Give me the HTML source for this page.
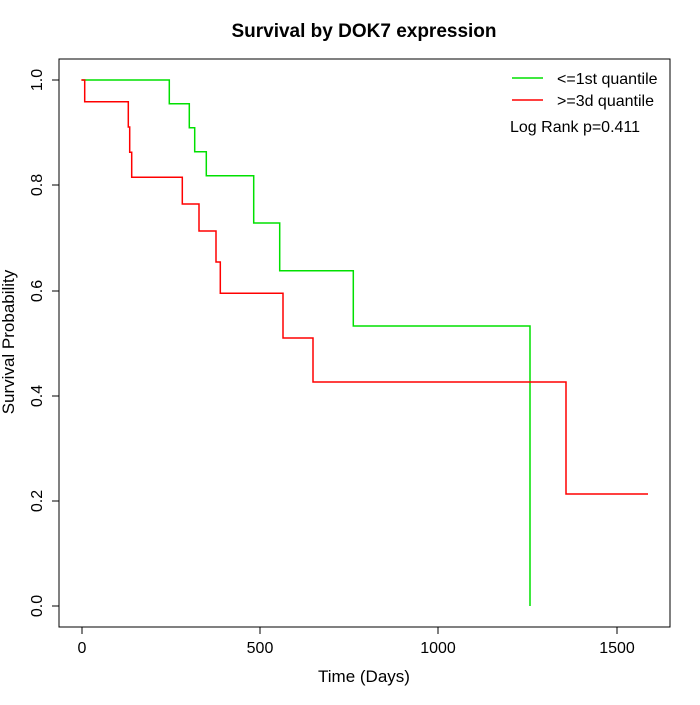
<!DOCTYPE html>
<html><head><meta charset="utf-8"><style>body{margin:0;background:#fff}</style></head><body>
<svg width="700" height="700" xmlns="http://www.w3.org/2000/svg" font-family="Liberation Sans, sans-serif">
<rect width="700" height="700" fill="#fff"/>
<text x="364" y="37" text-anchor="middle" font-size="19" font-weight="bold">Survival by DOK7 expression</text>
<rect x="59" y="59" width="611" height="568" fill="none" stroke="#000" stroke-width="1"/>
<g stroke="#000" stroke-width="1">
<line x1="82" y1="627" x2="617" y2="627"/>
<line x1="82" y1="627" x2="82" y2="634"/><line x1="260" y1="627" x2="260" y2="634"/><line x1="438" y1="627" x2="438" y2="634"/><line x1="617" y1="627" x2="617" y2="634"/>
<line x1="59" y1="80" x2="59" y2="606"/>
<line x1="52" y1="80" x2="59" y2="80"/><line x1="52" y1="185" x2="59" y2="185"/><line x1="52" y1="291" x2="59" y2="291"/><line x1="52" y1="396" x2="59" y2="396"/><line x1="52" y1="501" x2="59" y2="501"/><line x1="52" y1="606" x2="59" y2="606"/>
</g>
<g font-size="16" text-anchor="middle">
<text x="82" y="653">0</text><text x="260" y="653">500</text><text x="438" y="653">1000</text><text x="617" y="653">1500</text>
</g>
<g font-size="16" text-anchor="middle">
<text transform="translate(42,80) rotate(-90)">1.0</text>
<text transform="translate(42,185) rotate(-90)">0.8</text>
<text transform="translate(42,291) rotate(-90)">0.6</text>
<text transform="translate(42,396) rotate(-90)">0.4</text>
<text transform="translate(42,501) rotate(-90)">0.2</text>
<text transform="translate(42,606) rotate(-90)">0.0</text>
</g>
<text x="364" y="682" text-anchor="middle" font-size="17">Time (Days)</text>
<text transform="translate(14,342) rotate(-90)" text-anchor="middle" font-size="17">Survival Probability</text>
<polyline fill="none" stroke="#00e000" stroke-width="1.5" points="82,80 169.3,80 169.3,103.7 189.3,103.7 189.3,127.7 194.7,127.7 194.7,151.7 206.3,151.7 206.3,175.7 253.7,175.7 253.7,223 279.7,223 279.7,270.7 353.3,270.7 353.3,326 530,326 530,606"/>
<polyline fill="none" stroke="#ff0000" stroke-width="1.5" points="81.3,80 84.7,80 84.7,101.7 128.3,101.7 128.3,127 129.7,127 129.7,152.3 131.7,152.3 131.7,177.3 182.3,177.3 182.3,204 199,204 199,231 216,231 216,262 220.3,262 220.3,293.3 283,293.3 283,338 313,338 313,382 566,382 566,494 648,494"/>
<line x1="512" y1="78" x2="543" y2="78" stroke="#00e000" stroke-width="1.5"/>
<line x1="512" y1="100" x2="543" y2="100" stroke="#ff0000" stroke-width="1.5"/>
<g font-size="16">
<text x="557" y="84">&lt;=1st quantile</text>
<text x="557" y="106">&gt;=3d quantile</text>
<text x="510" y="132">Log Rank p=0.411</text>
</g>
</svg>
</body></html>
